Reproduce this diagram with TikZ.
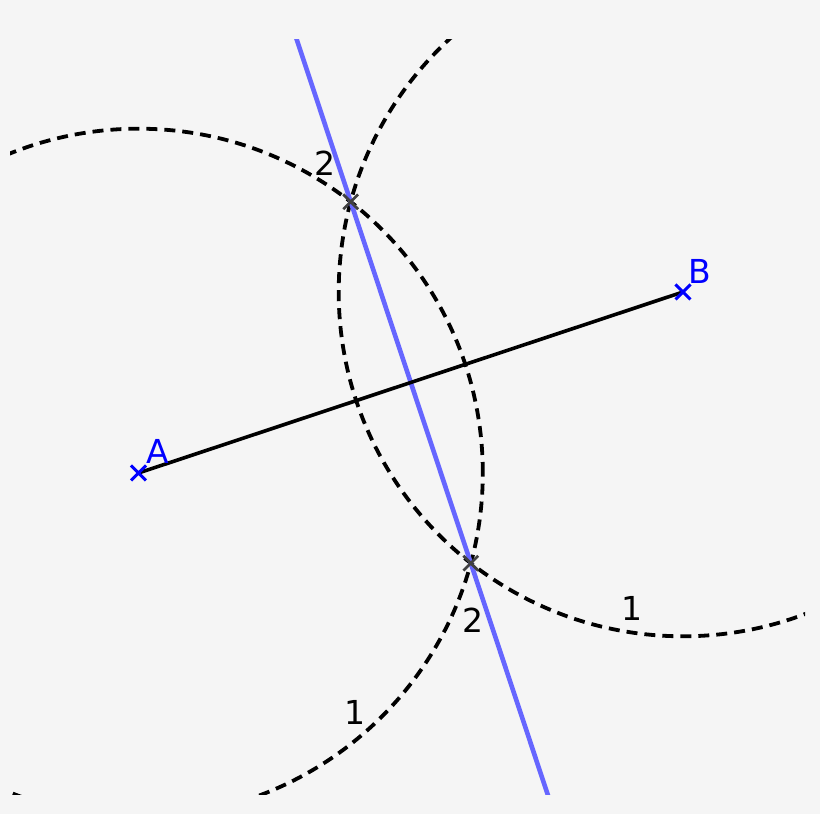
\documentclass[tikz,border=0pt]{standalone}
\usepackage{fontspec}
\setmainfont{DejaVu Sans}
\usepackage{xcolor}
\usepackage{tikz}
\usetikzlibrary{calc}
\usetikzlibrary{shapes.misc}
\definecolor{bgcolor}{RGB}{245,245,245}
\definecolor{bisector}{RGB}{102,102,255}
\definecolor{markgrey}{RGB}{64,64,64}
\tikzstyle{arcline} = [black, line width=3.8pt, dash pattern=on 11pt off 7pt]
\tikzstyle{segline} = [black, line width=3.6pt]
\tikzstyle{medline} = [bisector, line width=4.6pt]
\tikzstyle{ptmark} = [cross out, draw=blue, line width=3pt, minimum size=12pt, inner sep=0pt]
\tikzstyle{cutmark} = [cross out, draw=markgrey, line width=2.8pt, minimum size=12pt, inner sep=0pt]
\tikzstyle{ptlabel} = [text=blue, inner sep=0pt, font=\fontsize{33}{33}\selectfont]
\tikzstyle{numlabel} = [text=black, inner sep=0pt, font=\fontsize{33}{33}\selectfont]

\begin{document}
\begin{tikzpicture}[x=1pt, y=1pt]
        \fill[bgcolor] (0,0) rectangle (820,814);
        \useasboundingbox (0,0) rectangle (820,814);
        \coordinate (A) at (138.5,341);
        \coordinate (B) at (683,522);
        \coordinate (M) at ($(A)!0.5!(B)$);
        % the two crossing points of the circles
        \coordinate (P) at ($(M)!190.4pt!90:(B)$);
        \coordinate (Q) at ($(M)!190.4pt!-90:(B)$);
        \begin{scope}
            \clip (10,19) rectangle (805,774);
            \draw[arcline] (A) circle[radius=344.3pt];
            \draw[arcline] (B) circle[radius=344.3pt];
            \draw[medline] ($(P)!-2!(Q)$) -- ($(Q)!-2!(P)$);
        \end{scope}
        \draw[segline] (A) -- (B);
        \node[cutmark] (p) at (P) {};
        \node[cutmark] (q) at (Q) {};
        \node[ptmark] (a) at (A) {};
        \node[ptmark] (b) at (B) {};
        \node[ptlabel] (la) at (157.5,363) {A};
        \node[ptlabel] (lb) at (700,542.5) {B};
        \node[numlabel] (n2p) at (324.5,650.5) {2};
        \node[numlabel] (n2q) at (472.5,193.5) {2};
        \node[numlabel] (n1b) at (632,205.5) {1};
        \node[numlabel] (n1a) at (355,102) {1};
    \end{tikzpicture}
\end{document}
